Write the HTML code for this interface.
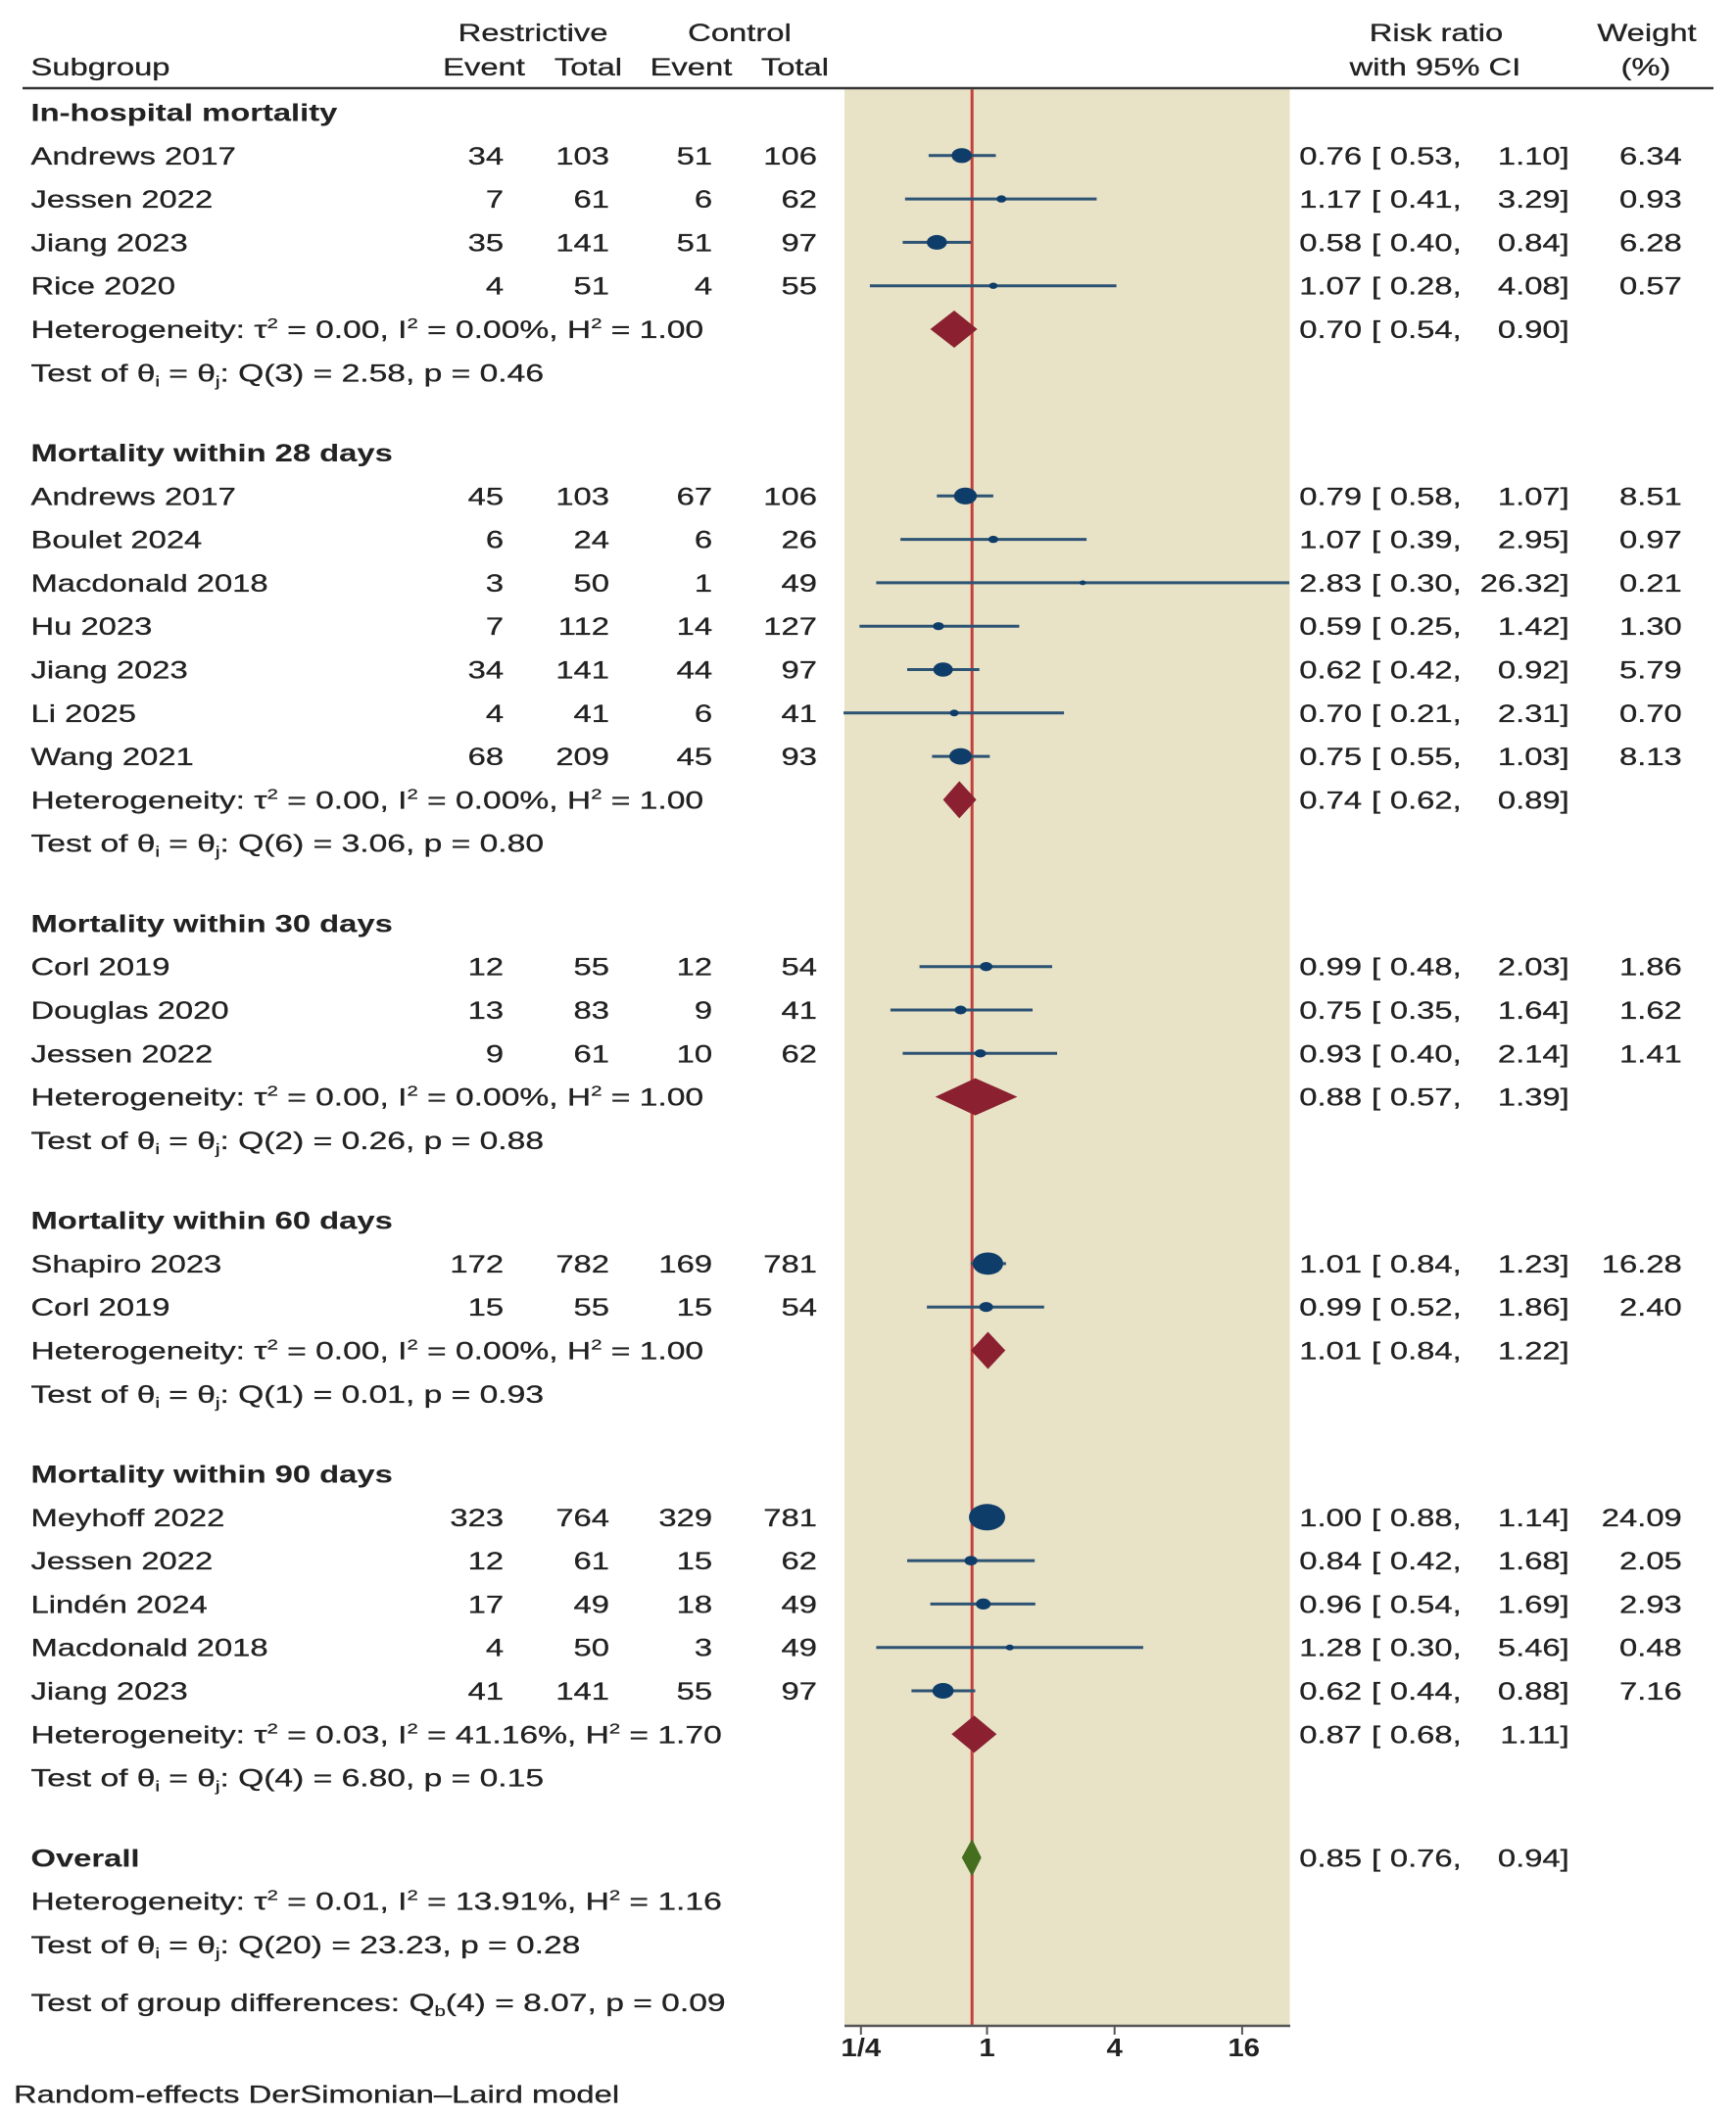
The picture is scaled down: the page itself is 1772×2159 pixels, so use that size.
<!DOCTYPE html>
<html><head><meta charset="utf-8"><style>
html,body{margin:0;padding:0;background:#fff;}
svg{display:block;}
</style></head><body>
<svg xmlns="http://www.w3.org/2000/svg" width="1772" height="2159" viewBox="0 0 1772 2159">
<rect x="0" y="0" width="1772" height="2159" fill="#fff"/>
<!-- plot panel -->
<rect x="862" y="91.3" width="454.5" height="1976" fill="#e8e2c6"/>
<!-- overall effect line -->
<line x1="992.2" y1="91.3" x2="992.2" y2="2067" stroke="#c4403c" stroke-width="3"/>
<!-- CI lines -->
<g stroke="#2d5373" stroke-width="3">
<line x1="947.9" y1="158.8" x2="1016.5" y2="158.8"/>
<line x1="923.8" y1="203.1" x2="1119.4" y2="203.1"/>
<line x1="921.4" y1="247.4" x2="991.1" y2="247.4"/>
<line x1="887.9" y1="291.7" x2="1139.6" y2="291.7"/>

<line x1="956.3" y1="506.3" x2="1013.9" y2="506.3"/>
<line x1="919.1" y1="550.6" x2="1109.1" y2="550.6"/>
<line x1="894.4" y1="594.9" x2="1316" y2="594.9"/>
<line x1="877.3" y1="639.2" x2="1040.4" y2="639.2"/>
<line x1="926.0" y1="683.5" x2="999.7" y2="683.5"/>
<line x1="861" y1="727.8" x2="1086.1" y2="727.8"/>
<line x1="951.4" y1="772.1" x2="1010.3" y2="772.1"/>

<line x1="938.6" y1="986.7" x2="1074.0" y2="986.7"/>
<line x1="908.9" y1="1031" x2="1054.0" y2="1031"/>
<line x1="921.4" y1="1075.3" x2="1079.0" y2="1075.3"/>

<line x1="991.1" y1="1289.9" x2="1026.9" y2="1289.9"/>
<line x1="946.1" y1="1334.2" x2="1065.8" y2="1334.2"/>

<line x1="995.5" y1="1548.8" x2="1019.8" y2="1548.8"/>
<line x1="926.0" y1="1593.1" x2="1056.2" y2="1593.1"/>
<line x1="949.6" y1="1637.4" x2="1056.8" y2="1637.4"/>
<line x1="894.4" y1="1681.7" x2="1166.9" y2="1681.7"/>
<line x1="930.4" y1="1726" x2="995.5" y2="1726"/>
</g>
<!-- study markers -->
<g fill="#0f3d6a">
<ellipse cx="981.7" cy="158.8" rx="10.4" ry="7.6"/>
<ellipse cx="1022.2" cy="203.1" rx="5.0" ry="3.7"/>
<ellipse cx="956.3" cy="247.4" rx="10.3" ry="7.5"/>
<ellipse cx="1013.9" cy="291.7" rx="4.3" ry="3.2"/>

<ellipse cx="985.4" cy="506.3" rx="11.7" ry="8.6"/>
<ellipse cx="1013.9" cy="550.6" rx="5.1" ry="3.7"/>
<ellipse cx="1105.2" cy="594.9" rx="3.3" ry="2.4"/>
<ellipse cx="957.9" cy="639.2" rx="5.6" ry="4.1"/>
<ellipse cx="962.6" cy="683.5" rx="10.0" ry="7.3"/>
<ellipse cx="974.0" cy="727.8" rx="4.6" ry="3.4"/>
<ellipse cx="980.5" cy="772.1" rx="11.5" ry="8.4"/>

<ellipse cx="1006.6" cy="986.7" rx="6.4" ry="4.7"/>
<ellipse cx="980.5" cy="1031" rx="6.1" ry="4.5"/>
<ellipse cx="1000.7" cy="1075.3" rx="5.8" ry="4.2"/>

<ellipse cx="1008.4" cy="1289.9" rx="15.6" ry="11.4"/>
<ellipse cx="1006.6" cy="1334.2" rx="7.0" ry="5.1"/>

<ellipse cx="1007.5" cy="1548.8" rx="18.5" ry="13.5"/>
<ellipse cx="991.1" cy="1593.1" rx="6.6" ry="4.9"/>
<ellipse cx="1003.7" cy="1637.4" rx="7.6" ry="5.6"/>
<ellipse cx="1030.7" cy="1681.7" rx="4.1" ry="3.0"/>
<ellipse cx="962.6" cy="1726" rx="10.9" ry="8.0"/>
</g>
<!-- subgroup diamonds -->
<g fill="#8a2030">
<polygon points="949.6,336 974.0,317 997.6,336 974.0,355"/>
<polygon points="962.6,816.4 979.2,797.4 996.6,816.4 979.2,835.4"/>
<polygon points="954.7,1119.6 995.5,1100.6 1038.4,1119.6 995.5,1138.6"/>
<polygon points="991.1,1378.5 1008.4,1359.5 1026.2,1378.5 1008.4,1397.5"/>
<polygon points="971.3,1770.3 994.4,1751.3 1017.3,1770.3 994.4,1789.3"/>
</g>
<!-- overall diamond -->
<polygon points="981.7,1896.3 992.2,1877.3 1001.7,1896.3 992.2,1915.3" fill="#456f1f"/>
<!-- axis -->
<line x1="862" y1="2068" x2="1317" y2="2068" stroke="#555" stroke-width="2.5"/>
<g stroke="#555" stroke-width="2">
<line x1="878.8" y1="2068" x2="878.8" y2="2077"/>
<line x1="1007.5" y1="2068" x2="1007.5" y2="2077"/>
<line x1="1137.7" y1="2068" x2="1137.7" y2="2077"/>
<line x1="1267.9" y1="2068" x2="1267.9" y2="2077"/>
</g>
<!-- header rule -->
<line x1="23" y1="90" x2="1749" y2="90" stroke="#333" stroke-width="2.5"/>

<!-- tick labels -->
<g transform="scale(1.13,1)" font-family="'Liberation Sans', Arial, sans-serif" font-size="26" font-weight="bold" fill="#222" text-anchor="middle">
<text x="777.7" y="2099">1/4</text>
<text x="891.6" y="2099">1</text>
<text x="1006.8" y="2099">4</text>
<text x="1123.6" y="2099">16</text>
</g>

<g transform="scale(1.31,1)" font-family="'Liberation Sans', Arial, sans-serif" font-size="25" fill="#222" stroke="#222" stroke-width="0.3">
<!-- headers -->
<text x="415.3" y="42" text-anchor="middle">Restrictive</text>
<text x="576.3" y="42" text-anchor="middle">Control</text>
<text x="24.05" y="77">Subgroup</text>
<text x="377.1" y="77" text-anchor="middle">Event</text>
<text x="458.4" y="77" text-anchor="middle">Total</text>
<text x="538.5" y="77" text-anchor="middle">Event</text>
<text x="619.4" y="77" text-anchor="middle">Total</text>
<text x="1119.1" y="42" text-anchor="middle">Risk ratio</text>
<text x="1118.3" y="77" text-anchor="middle">with 95% CI</text>
<text x="1283.2" y="42" text-anchor="middle">Weight</text>
<text x="1282.4" y="77" text-anchor="middle">(%)</text>

<!-- group headings -->
<g font-weight="bold" stroke-width="0.1">
<text x="24.05" y="123.5">In-hospital mortality</text>
<text x="24.05" y="471">Mortality within 28 days</text>
<text x="24.05" y="951.4">Mortality within 30 days</text>
<text x="24.05" y="1254.6">Mortality within 60 days</text>
<text x="24.05" y="1513.5">Mortality within 90 days</text>
<text x="24.05" y="1905.3">Overall</text>
</g>

<!-- study names -->
<text x="24.05" y="167.8">Andrews 2017</text>
<text x="24.05" y="212.1">Jessen 2022</text>
<text x="24.05" y="256.4">Jiang 2023</text>
<text x="24.05" y="300.7">Rice 2020</text>
<text x="24.05" y="515.3">Andrews 2017</text>
<text x="24.05" y="559.6">Boulet 2024</text>
<text x="24.05" y="603.9">Macdonald 2018</text>
<text x="24.05" y="648.2">Hu 2023</text>
<text x="24.05" y="692.5">Jiang 2023</text>
<text x="24.05" y="736.8">Li 2025</text>
<text x="24.05" y="781.1">Wang 2021</text>
<text x="24.05" y="995.7">Corl 2019</text>
<text x="24.05" y="1040">Douglas 2020</text>
<text x="24.05" y="1084.3">Jessen 2022</text>
<text x="24.05" y="1298.9">Shapiro 2023</text>
<text x="24.05" y="1343.2">Corl 2019</text>
<text x="24.05" y="1557.8">Meyhoff 2022</text>
<text x="24.05" y="1602.1">Jessen 2022</text>
<text x="24.05" y="1646.4">Lindén 2024</text>
<text x="24.05" y="1690.7">Macdonald 2018</text>
<text x="24.05" y="1735">Jiang 2023</text>

<!-- heterogeneity / tests (slightly wider) -->
<g transform="scale(1.026,1)">
<text x="23.44" y="345">Heterogeneity: τ<tspan font-size="15" dy="-10">2</tspan><tspan dy="10"> = 0.00, I</tspan><tspan font-size="15" dy="-10">2</tspan><tspan dy="10"> = 0.00%, H</tspan><tspan font-size="15" dy="-10">2</tspan><tspan dy="10"> = 1.00</tspan></text>
<text x="23.44" y="389.3">Test of θ<tspan font-size="15" dy="5">i</tspan><tspan dy="-5"> = θ</tspan><tspan font-size="15" dy="5">j</tspan><tspan dy="-5">: Q(3) = 2.58, p = 0.46</tspan></text>

<text x="23.44" y="825.4">Heterogeneity: τ<tspan font-size="15" dy="-10">2</tspan><tspan dy="10"> = 0.00, I</tspan><tspan font-size="15" dy="-10">2</tspan><tspan dy="10"> = 0.00%, H</tspan><tspan font-size="15" dy="-10">2</tspan><tspan dy="10"> = 1.00</tspan></text>
<text x="23.44" y="869.7">Test of θ<tspan font-size="15" dy="5">i</tspan><tspan dy="-5"> = θ</tspan><tspan font-size="15" dy="5">j</tspan><tspan dy="-5">: Q(6) = 3.06, p = 0.80</tspan></text>

<text x="23.44" y="1128.6">Heterogeneity: τ<tspan font-size="15" dy="-10">2</tspan><tspan dy="10"> = 0.00, I</tspan><tspan font-size="15" dy="-10">2</tspan><tspan dy="10"> = 0.00%, H</tspan><tspan font-size="15" dy="-10">2</tspan><tspan dy="10"> = 1.00</tspan></text>
<text x="23.44" y="1172.9">Test of θ<tspan font-size="15" dy="5">i</tspan><tspan dy="-5"> = θ</tspan><tspan font-size="15" dy="5">j</tspan><tspan dy="-5">: Q(2) = 0.26, p = 0.88</tspan></text>

<text x="23.44" y="1387.5">Heterogeneity: τ<tspan font-size="15" dy="-10">2</tspan><tspan dy="10"> = 0.00, I</tspan><tspan font-size="15" dy="-10">2</tspan><tspan dy="10"> = 0.00%, H</tspan><tspan font-size="15" dy="-10">2</tspan><tspan dy="10"> = 1.00</tspan></text>
<text x="23.44" y="1431.8">Test of θ<tspan font-size="15" dy="5">i</tspan><tspan dy="-5"> = θ</tspan><tspan font-size="15" dy="5">j</tspan><tspan dy="-5">: Q(1) = 0.01, p = 0.93</tspan></text>

<text x="23.44" y="1779.3">Heterogeneity: τ<tspan font-size="15" dy="-10">2</tspan><tspan dy="10"> = 0.03, I</tspan><tspan font-size="15" dy="-10">2</tspan><tspan dy="10"> = 41.16%, H</tspan><tspan font-size="15" dy="-10">2</tspan><tspan dy="10"> = 1.70</tspan></text>
<text x="23.44" y="1823.6">Test of θ<tspan font-size="15" dy="5">i</tspan><tspan dy="-5"> = θ</tspan><tspan font-size="15" dy="5">j</tspan><tspan dy="-5">: Q(4) = 6.80, p = 0.15</tspan></text>

<text x="23.44" y="1949.6">Heterogeneity: τ<tspan font-size="15" dy="-10">2</tspan><tspan dy="10"> = 0.01, I</tspan><tspan font-size="15" dy="-10">2</tspan><tspan dy="10"> = 13.91%, H</tspan><tspan font-size="15" dy="-10">2</tspan><tspan dy="10"> = 1.16</tspan></text>
<text x="23.44" y="1993.9">Test of θ<tspan font-size="15" dy="5">i</tspan><tspan dy="-5"> = θ</tspan><tspan font-size="15" dy="5">j</tspan><tspan dy="-5">: Q(20) = 23.23, p = 0.28</tspan></text>

<text x="23.44" y="2053">Test of group differences: Q<tspan font-size="15" dy="5">b</tspan><tspan dy="-5">(4) = 8.07, p = 0.09</tspan></text>
</g>
<text x="10.69" y="2146.5">Random-effects DerSimonian–Laird model</text>

<!-- counts -->
<g text-anchor="end">
<text x="392.4" y="167.8">34</text><text x="474.8" y="167.8">103</text><text x="555" y="167.8">51</text><text x="636.6" y="167.8">106</text>
<text x="392.4" y="212.1">7</text><text x="474.8" y="212.1">61</text><text x="555" y="212.1">6</text><text x="636.6" y="212.1">62</text>
<text x="392.4" y="256.4">35</text><text x="474.8" y="256.4">141</text><text x="555" y="256.4">51</text><text x="636.6" y="256.4">97</text>
<text x="392.4" y="300.7">4</text><text x="474.8" y="300.7">51</text><text x="555" y="300.7">4</text><text x="636.6" y="300.7">55</text>

<text x="392.4" y="515.3">45</text><text x="474.8" y="515.3">103</text><text x="555" y="515.3">67</text><text x="636.6" y="515.3">106</text>
<text x="392.4" y="559.6">6</text><text x="474.8" y="559.6">24</text><text x="555" y="559.6">6</text><text x="636.6" y="559.6">26</text>
<text x="392.4" y="603.9">3</text><text x="474.8" y="603.9">50</text><text x="555" y="603.9">1</text><text x="636.6" y="603.9">49</text>
<text x="392.4" y="648.2">7</text><text x="474.8" y="648.2">112</text><text x="555" y="648.2">14</text><text x="636.6" y="648.2">127</text>
<text x="392.4" y="692.5">34</text><text x="474.8" y="692.5">141</text><text x="555" y="692.5">44</text><text x="636.6" y="692.5">97</text>
<text x="392.4" y="736.8">4</text><text x="474.8" y="736.8">41</text><text x="555" y="736.8">6</text><text x="636.6" y="736.8">41</text>
<text x="392.4" y="781.1">68</text><text x="474.8" y="781.1">209</text><text x="555" y="781.1">45</text><text x="636.6" y="781.1">93</text>

<text x="392.4" y="995.7">12</text><text x="474.8" y="995.7">55</text><text x="555" y="995.7">12</text><text x="636.6" y="995.7">54</text>
<text x="392.4" y="1040">13</text><text x="474.8" y="1040">83</text><text x="555" y="1040">9</text><text x="636.6" y="1040">41</text>
<text x="392.4" y="1084.3">9</text><text x="474.8" y="1084.3">61</text><text x="555" y="1084.3">10</text><text x="636.6" y="1084.3">62</text>

<text x="392.4" y="1298.9">172</text><text x="474.8" y="1298.9">782</text><text x="555" y="1298.9">169</text><text x="636.6" y="1298.9">781</text>
<text x="392.4" y="1343.2">15</text><text x="474.8" y="1343.2">55</text><text x="555" y="1343.2">15</text><text x="636.6" y="1343.2">54</text>

<text x="392.4" y="1557.8">323</text><text x="474.8" y="1557.8">764</text><text x="555" y="1557.8">329</text><text x="636.6" y="1557.8">781</text>
<text x="392.4" y="1602.1">12</text><text x="474.8" y="1602.1">61</text><text x="555" y="1602.1">15</text><text x="636.6" y="1602.1">62</text>
<text x="392.4" y="1646.4">17</text><text x="474.8" y="1646.4">49</text><text x="555" y="1646.4">18</text><text x="636.6" y="1646.4">49</text>
<text x="392.4" y="1690.7">4</text><text x="474.8" y="1690.7">50</text><text x="555" y="1690.7">3</text><text x="636.6" y="1690.7">49</text>
<text x="392.4" y="1735">41</text><text x="474.8" y="1735">141</text><text x="555" y="1735">55</text><text x="636.6" y="1735">97</text>
</g>

<!-- risk ratios -->
<g text-anchor="end">
<text x="1061.1" y="167.8">0.76</text><text x="1138.7" y="167.8">0.53,</text><text x="1222.7" y="167.8">1.10]</text><text x="1310.5" y="167.8">6.34</text>
<text x="1061.1" y="212.1">1.17</text><text x="1138.7" y="212.1">0.41,</text><text x="1222.7" y="212.1">3.29]</text><text x="1310.5" y="212.1">0.93</text>
<text x="1061.1" y="256.4">0.58</text><text x="1138.7" y="256.4">0.40,</text><text x="1222.7" y="256.4">0.84]</text><text x="1310.5" y="256.4">6.28</text>
<text x="1061.1" y="300.7">1.07</text><text x="1138.7" y="300.7">0.28,</text><text x="1222.7" y="300.7">4.08]</text><text x="1310.5" y="300.7">0.57</text>
<text x="1061.1" y="345">0.70</text><text x="1138.7" y="345">0.54,</text><text x="1222.7" y="345">0.90]</text>

<text x="1061.1" y="515.3">0.79</text><text x="1138.7" y="515.3">0.58,</text><text x="1222.7" y="515.3">1.07]</text><text x="1310.5" y="515.3">8.51</text>
<text x="1061.1" y="559.6">1.07</text><text x="1138.7" y="559.6">0.39,</text><text x="1222.7" y="559.6">2.95]</text><text x="1310.5" y="559.6">0.97</text>
<text x="1061.1" y="603.9">2.83</text><text x="1138.7" y="603.9">0.30,</text><text x="1222.7" y="603.9">26.32]</text><text x="1310.5" y="603.9">0.21</text>
<text x="1061.1" y="648.2">0.59</text><text x="1138.7" y="648.2">0.25,</text><text x="1222.7" y="648.2">1.42]</text><text x="1310.5" y="648.2">1.30</text>
<text x="1061.1" y="692.5">0.62</text><text x="1138.7" y="692.5">0.42,</text><text x="1222.7" y="692.5">0.92]</text><text x="1310.5" y="692.5">5.79</text>
<text x="1061.1" y="736.8">0.70</text><text x="1138.7" y="736.8">0.21,</text><text x="1222.7" y="736.8">2.31]</text><text x="1310.5" y="736.8">0.70</text>
<text x="1061.1" y="781.1">0.75</text><text x="1138.7" y="781.1">0.55,</text><text x="1222.7" y="781.1">1.03]</text><text x="1310.5" y="781.1">8.13</text>
<text x="1061.1" y="825.4">0.74</text><text x="1138.7" y="825.4">0.62,</text><text x="1222.7" y="825.4">0.89]</text>

<text x="1061.1" y="995.7">0.99</text><text x="1138.7" y="995.7">0.48,</text><text x="1222.7" y="995.7">2.03]</text><text x="1310.5" y="995.7">1.86</text>
<text x="1061.1" y="1040">0.75</text><text x="1138.7" y="1040">0.35,</text><text x="1222.7" y="1040">1.64]</text><text x="1310.5" y="1040">1.62</text>
<text x="1061.1" y="1084.3">0.93</text><text x="1138.7" y="1084.3">0.40,</text><text x="1222.7" y="1084.3">2.14]</text><text x="1310.5" y="1084.3">1.41</text>
<text x="1061.1" y="1128.6">0.88</text><text x="1138.7" y="1128.6">0.57,</text><text x="1222.7" y="1128.6">1.39]</text>

<text x="1061.1" y="1298.9">1.01</text><text x="1138.7" y="1298.9">0.84,</text><text x="1222.7" y="1298.9">1.23]</text><text x="1310.5" y="1298.9">16.28</text>
<text x="1061.1" y="1343.2">0.99</text><text x="1138.7" y="1343.2">0.52,</text><text x="1222.7" y="1343.2">1.86]</text><text x="1310.5" y="1343.2">2.40</text>
<text x="1061.1" y="1387.5">1.01</text><text x="1138.7" y="1387.5">0.84,</text><text x="1222.7" y="1387.5">1.22]</text>

<text x="1061.1" y="1557.8">1.00</text><text x="1138.7" y="1557.8">0.88,</text><text x="1222.7" y="1557.8">1.14]</text><text x="1310.5" y="1557.8">24.09</text>
<text x="1061.1" y="1602.1">0.84</text><text x="1138.7" y="1602.1">0.42,</text><text x="1222.7" y="1602.1">1.68]</text><text x="1310.5" y="1602.1">2.05</text>
<text x="1061.1" y="1646.4">0.96</text><text x="1138.7" y="1646.4">0.54,</text><text x="1222.7" y="1646.4">1.69]</text><text x="1310.5" y="1646.4">2.93</text>
<text x="1061.1" y="1690.7">1.28</text><text x="1138.7" y="1690.7">0.30,</text><text x="1222.7" y="1690.7">5.46]</text><text x="1310.5" y="1690.7">0.48</text>
<text x="1061.1" y="1735">0.62</text><text x="1138.7" y="1735">0.44,</text><text x="1222.7" y="1735">0.88]</text><text x="1310.5" y="1735">7.16</text>
<text x="1061.1" y="1779.3">0.87</text><text x="1138.7" y="1779.3">0.68,</text><text x="1222.7" y="1779.3">1.11]</text>

<text x="1061.1" y="1905.3">0.85</text><text x="1138.7" y="1905.3">0.76,</text><text x="1222.7" y="1905.3">0.94]</text>
</g>
<!-- opening brackets -->
<g>
<text x="1068.7" y="167.8">[</text><text x="1068.7" y="212.1">[</text><text x="1068.7" y="256.4">[</text><text x="1068.7" y="300.7">[</text><text x="1068.7" y="345">[</text>
<text x="1068.7" y="515.3">[</text><text x="1068.7" y="559.6">[</text><text x="1068.7" y="603.9">[</text><text x="1068.7" y="648.2">[</text><text x="1068.7" y="692.5">[</text><text x="1068.7" y="736.8">[</text><text x="1068.7" y="781.1">[</text><text x="1068.7" y="825.4">[</text>
<text x="1068.7" y="995.7">[</text><text x="1068.7" y="1040">[</text><text x="1068.7" y="1084.3">[</text><text x="1068.7" y="1128.6">[</text>
<text x="1068.7" y="1298.9">[</text><text x="1068.7" y="1343.2">[</text><text x="1068.7" y="1387.5">[</text>
<text x="1068.7" y="1557.8">[</text><text x="1068.7" y="1602.1">[</text><text x="1068.7" y="1646.4">[</text><text x="1068.7" y="1690.7">[</text><text x="1068.7" y="1735">[</text><text x="1068.7" y="1779.3">[</text>
<text x="1068.7" y="1905.3">[</text>
</g>
</g>
</svg>
</body></html>
